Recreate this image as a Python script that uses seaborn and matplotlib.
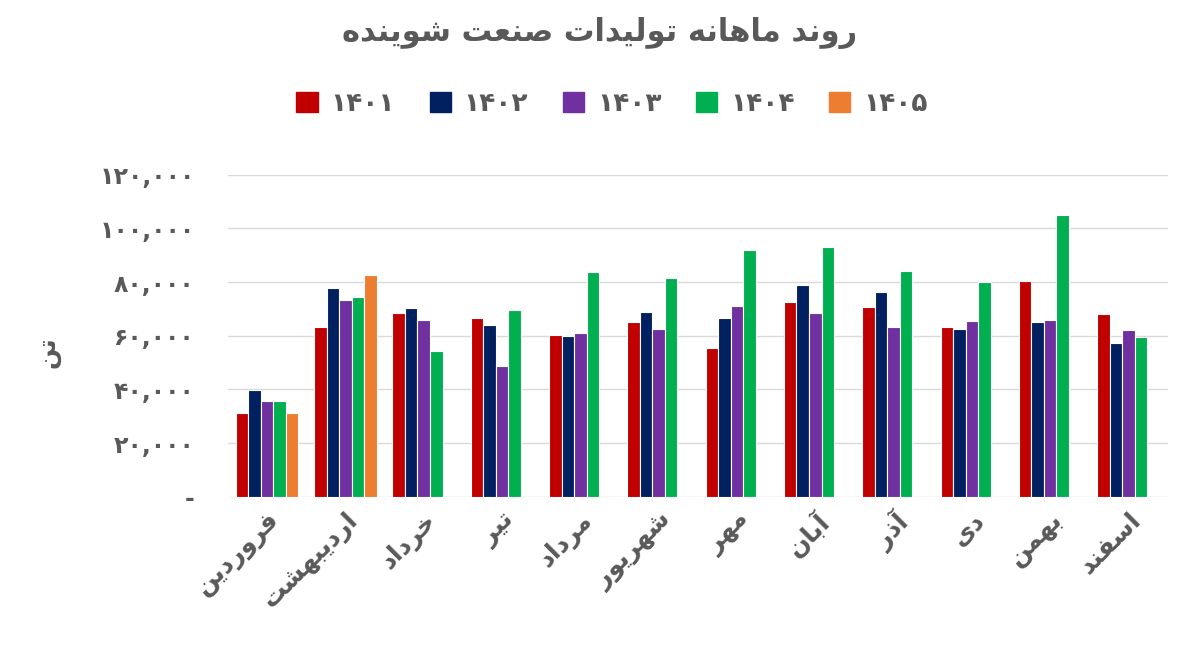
import matplotlib
matplotlib.use("Agg")
import matplotlib.pyplot as plt
import seaborn as sns
import pandas as pd
import numpy as np

months = ["فروردین", "اردیبهشت", "خرداد", "تیر", "مرداد", "شهریور",
          "مهر", "آبان", "آذر", "دی", "بهمن", "اسفند"]
years = ["۱۴۰۱", "۱۴۰۲", "۱۴۰۳", "۱۴۰۴", "۱۴۰۵"]
v1401 = [31300, 63400, 68600, 66700, 60400, 65200, 55500, 72700, 70800, 63400, 80500, 68200]
v1402 = [39900, 77900, 70400, 64100, 60000, 68900, 66700, 79000, 76400, 62600, 65200, 57400]
v1403 = [35800, 73400, 66000, 48800, 61100, 62600, 71200, 68600, 63400, 65600, 66000, 62200]
v1404 = [35800, 74500, 54400, 69700, 83800, 81600, 92000, 93200, 84200, 80100, 105100, 59600]
v1405 = [31300, 82700] + [np.nan] * 10
colors = ["#C00000", "#002060", "#7030A0", "#00B050", "#ED7D31"]
title = "روند ماهانه تولیدات صنعت شوینده"
ylabel = "تن"

# minimal Persian shaper (presentation forms) + RTL reversal
FORMS = {
    'ا': (0xFE8D, 0xFE8E, None, None), 'آ': (0xFE81, 0xFE82, None, None),
    'ب': (0xFE8F, 0xFE90, 0xFE91, 0xFE92), 'ت': (0xFE95, 0xFE96, 0xFE97, 0xFE98),
    'خ': (0xFEA5, 0xFEA6, 0xFEA7, 0xFEA8), 'د': (0xFEA9, 0xFEAA, None, None),
    'ذ': (0xFEAB, 0xFEAC, None, None), 'ر': (0xFEAD, 0xFEAE, None, None),
    'ز': (0xFEAF, 0xFEB0, None, None), 'س': (0xFEB1, 0xFEB2, 0xFEB3, 0xFEB4),
    'ش': (0xFEB5, 0xFEB6, 0xFEB7, 0xFEB8), 'ص': (0xFEB9, 0xFEBA, 0xFEBB, 0xFEBC),
    'ع': (0xFEC9, 0xFECA, 0xFECB, 0xFECC), 'ف': (0xFED1, 0xFED2, 0xFED3, 0xFED4),
    'ل': (0xFEDD, 0xFEDE, 0xFEDF, 0xFEE0), 'م': (0xFEE1, 0xFEE2, 0xFEE3, 0xFEE4),
    'ن': (0xFEE5, 0xFEE6, 0xFEE7, 0xFEE8), 'ه': (0xFEE9, 0xFEEA, 0xFEEB, 0xFEEC),
    'و': (0xFEED, 0xFEEE, None, None), 'ی': (0xFBFC, 0xFBFD, 0xFBFE, 0xFBFF),
}

def shape(s):
    out = []
    for i, c in enumerate(s):
        if c not in FORMS:
            out.append(c); continue
        f = FORMS[c]
        p = s[i-1] if i > 0 else ''
        n = s[i+1] if i + 1 < len(s) else ''
        jp = p in FORMS and FORMS[p][2] is not None
        jn = n in FORMS and f[2] is not None
        if jp and jn: k = 3
        elif jp: k = 1
        elif jn: k = 2
        else: k = 0
        out.append(chr(f[k]))
    return ''.join(out)[::-1]

rows = []
for vals, y in zip([v1401, v1402, v1403, v1404, v1405], years):
    for m, v in zip(months, vals):
        rows.append({"month": m, "year": y, "value": v})
df = pd.DataFrame(rows)

sns.set_theme(style="white")
plt.rcParams['font.family'] = ['DejaVu Sans']
fig = plt.figure(figsize=(12, 6.52), dpi=100)
ax = fig.add_axes([0.19, 0.238, 0.783, 0.494])
sns.barplot(data=df, x="month", y="value", hue="year", order=months, hue_order=years,
            palette=colors, width=0.8, ax=ax, legend=False, saturation=1,
            edgecolor="white", linewidth=0.8)
ax.set_ylim(0, 120000)
ticks = np.arange(0, 120001, 20000)
ax.set_yticks(ticks)
fa = str.maketrans("0123456789", "۰۱۲۳۴۵۶۷۸۹")
ax.set_yticklabels(["-" if t == 0 else f"{t:,}".translate(fa) for t in ticks],
                   fontsize=17, fontweight="bold", color="#595959")
ax.set_xticks(range(len(months)))
ax.set_xticklabels([shape(m) for m in months], rotation=45, ha="right",
                   rotation_mode="anchor", fontsize=18, fontweight="bold", color="#595959")
ax.tick_params(axis="y", length=0, pad=24)
ax.tick_params(axis="x", length=0, pad=8)
ax.yaxis.grid(True, color="#D9D9D9", linewidth=1)
ax.set_axisbelow(True)
for s in ax.spines.values():
    s.set_visible(False)
ax.set_xlabel("")
ax.set_ylabel("")
fig.text(0.04, 0.46, shape(ylabel), rotation=90, fontsize=18, fontweight="bold",
         color="#595959", ha="center", va="center")
fig.text(0.5, 0.95, shape(title), fontsize=22, fontweight="bold", color="#595959",
         ha="center", va="center")
from matplotlib.patches import Patch
handles = [Patch(color=c) for c in colors]
fig.legend(handles, years, loc="center", bbox_to_anchor=(0.51, 0.84), ncol=5,
           frameon=False, handlelength=0.8, handleheight=0.8,
           columnspacing=1.3, handletextpad=0.5,
           prop={"size": 19, "weight": "bold"}, labelcolor="#595959")
fig.savefig("out.png", dpi=100)
